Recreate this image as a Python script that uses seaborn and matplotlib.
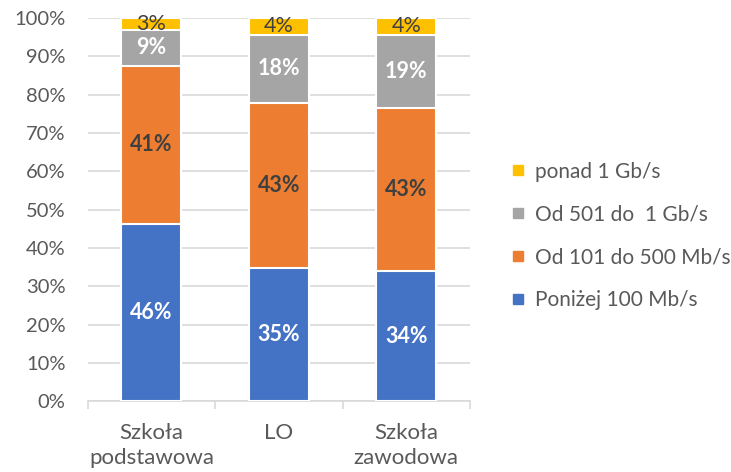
import numpy as np
import pandas as pd
import matplotlib
matplotlib.use("Agg")
import matplotlib.pyplot as plt
from matplotlib.lines import Line2D
import seaborn as sns

categories = ["Szkoła\npodstawowa", "LO", "Szkoła\nzawodowa"]
series_names = ["Poniżej 100 Mb/s", "Od 101 do 500 Mb/s", "Od 501 do  1 Gb/s", "ponad 1 Gb/s"]
below_100 = [46.3, 34.7, 34.0]
mid_101_500 = [41.2, 43.1, 42.6]
mid_501_1g = [9.4, 17.8, 19.0]
above_1g = [3.1, 4.4, 4.4]
labels = [["46%", "35%", "34%"], ["41%", "43%", "43%"], ["9%", "18%", "19%"], ["3%", "4%", "4%"]]
colors = ["#4472C4", "#ED7D31", "#A5A5A5", "#FFC000"]
label_colors = ["white", "#404040", "white", "#404040"]
label_weights = ["bold", "bold", "bold", "normal"]

sns.set_theme(style="white")
plt.rcParams["font.family"] = ["Lato", "DejaVu Sans"]

values = np.array([below_100, mid_101_500, mid_501_1g, above_1g])
cum = np.cumsum(values, axis=0)

fig = plt.figure(figsize=(7.31, 4.72), dpi=100)
ax = fig.add_axes([0.120, 0.150, 0.523, 0.812])

# draw from top-most cumulative down so lower segments overlap
for i in range(3, -1, -1):
    df = pd.DataFrame({"cat": categories, "val": cum[i]})
    sns.barplot(data=df, x="cat", y="val", color=colors[i], saturation=1,
                width=0.47, edgecolor="white", linewidth=1.5, ax=ax, zorder=3)

for i in range(4):
    for j in range(3):
        center = cum[i][j] - values[i][j] / 2
        ax.text(j, center, labels[i][j], ha="center", va="center",
                color=label_colors[i], fontweight=label_weights[i], fontsize=15.5, zorder=5)

ax.set_ylim(0, 100)
ax.set_xlim(-0.5, 2.5)
ax.set_yticks(np.arange(0, 101, 10))
ax.set_yticklabels([f"{v}%" for v in range(0, 101, 10)])
ax.yaxis.grid(True, color="#D9D9D9", linewidth=1.2, zorder=0)
ax.set_axisbelow(True)
ax.set_xlabel("")
ax.set_ylabel("")
for s in ["top", "right", "left"]:
    ax.spines[s].set_visible(False)
ax.spines["bottom"].set_color("#D9D9D9")
ax.spines["bottom"].set_linewidth(1.2)
ax.set_xticks([0, 1, 2])
ax.set_xticks([-0.5, 0.5, 1.5, 2.5], minor=True)
ax.tick_params(axis="x", which="major", length=0, pad=16, labelsize=16, labelcolor="#595959")
for t in ax.get_xticklabels():
    t.set_linespacing(1.3)
ax.tick_params(axis="x", which="minor", length=6, width=1.2, color="#D9D9D9", direction="out", bottom=True)
ax.tick_params(axis="y", length=0, pad=16, labelsize=14.5, labelcolor="#595959")

handles = [Line2D([0], [0], marker="s", linestyle="", markersize=7,
                  markerfacecolor=colors[i], markeredgecolor=colors[i]) for i in range(3, -1, -1)]
leg = fig.legend(handles, [series_names[i] for i in range(3, -1, -1)],
                 loc="center left", bbox_to_anchor=(0.67, 0.50), frameon=False,
                 fontsize=15, labelspacing=1.1, handletextpad=0.35, handlelength=0.9)
for t in leg.get_texts():
    t.set_color("#595959")

fig.savefig("out.png", dpi=100)
